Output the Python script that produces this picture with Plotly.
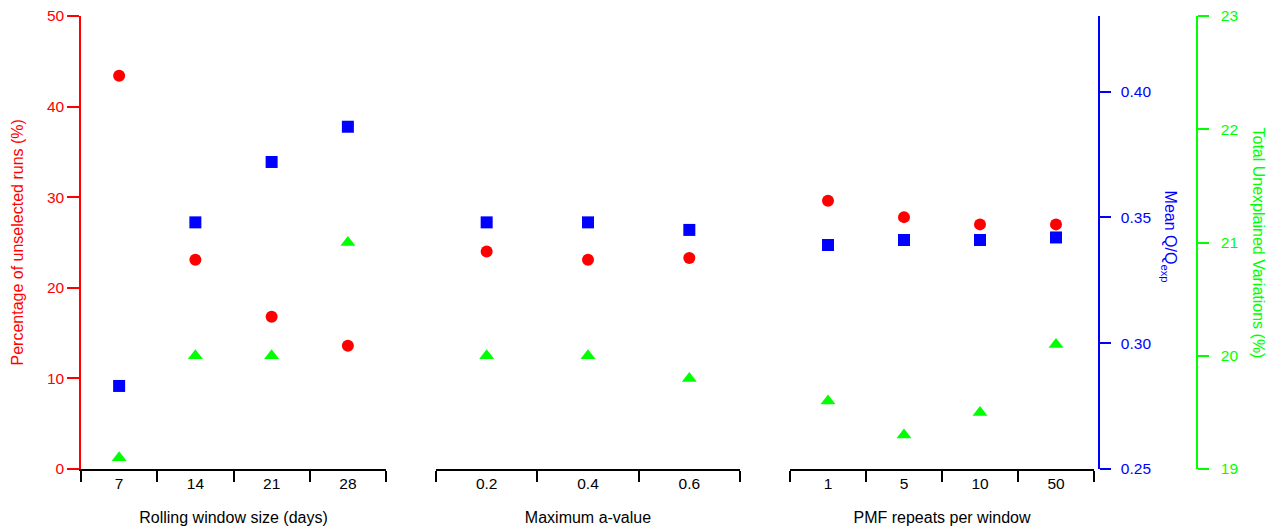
import plotly.graph_objects as go

# ---------------- data ----------------
window_sizes = ["7", "14", "21", "28"]
a_values = ["0.2", "0.4", "0.6"]
pmf_repeats = ["1", "5", "10", "50"]

unselected_window = [43.4, 23.1, 16.8, 13.6]
unselected_a = [24.0, 23.1, 23.3]
unselected_pmf = [29.6, 27.8, 27.0, 27.0]

qqexp_window = [0.283, 0.348, 0.372, 0.386]
qqexp_a = [0.348, 0.348, 0.345]
qqexp_pmf = [0.339, 0.341, 0.341, 0.342]

tuv_window = [19.1, 20.0, 20.0, 21.0]
tuv_a = [20.0, 20.0, 19.8]
tuv_pmf = [19.6, 19.3, 19.5, 20.1]

x_titles = ["Rolling window size (days)", "Maximum a-value", "PMF repeats per window"]

# ---------------- layout geometry (pixels) ----------------
W, H = 1275, 528
L, R, T, B = 81, 1197, 16, 469
PW = R - L


def px(x):
    return (x - L) / PW


RED, BLUE, GREEN = "#FF0000", "#0000FF", "#00FF00"
FONT = "Liberation Sans, Arial, sans-serif"
TICKF = 15.5
TITLEF = 16
LW = 1.5

groups = [
    (window_sizes, unselected_window, qqexp_window, tuv_window, [0, px(386)]),
    (a_values, unselected_a, qqexp_a, tuv_a, [px(436), px(740)]),
    (pmf_repeats, unselected_pmf, qqexp_pmf, tuv_pmf, [px(790), px(1094)]),
]

fig = go.Figure()
layout = {}
for i, (cats, red, blue, green, dom) in enumerate(groups):
    xa = "x" if i == 0 else f"x{i+1}"
    xkey = "xaxis" if i == 0 else f"xaxis{i+1}"
    fig.add_trace(go.Scatter(x=cats, y=red, xaxis=xa, yaxis="y", mode="markers",
                             marker=dict(symbol="circle", size=12, color=RED),
                             showlegend=False))
    fig.add_trace(go.Scatter(x=cats, y=blue, xaxis=xa, yaxis="y2", mode="markers",
                             marker=dict(symbol="square", size=12, color=BLUE),
                             showlegend=False))
    fig.add_trace(go.Scatter(x=cats, y=green, xaxis=xa, yaxis="y3", mode="markers",
                             marker=dict(symbol="triangle-up", size=13, color=GREEN),
                             showlegend=False))
    layout[xkey] = dict(
        domain=dom, anchor="y", type="category", categoryorder="array",
        categoryarray=cats, range=[-0.5, len(cats) - 0.5],
        tickson="boundaries", ticks="outside", ticklen=11, tickwidth=LW,
        tickcolor="black", showline=True, linecolor="black", linewidth=LW,
        showgrid=False, zeroline=False, automargin=False,
        tickfont=dict(family=FONT, size=TICKF, color="black"),
        title=dict(text=x_titles[i], font=dict(family=FONT, size=TITLEF, color="black"),
                   standoff=20),
    )

fig.update_layout(**layout)
fig.update_layout(
    width=W, height=H,
    margin=dict(l=L, r=W - R, t=T, b=H - B, pad=0, autoexpand=False),
    plot_bgcolor="white", paper_bgcolor="white",
    showlegend=False,
    yaxis=dict(range=[0, 50], tickvals=[0, 10, 20, 30, 40, 50], anchor="x",
               side="left", ticks="outside", ticklen=12, tickcolor=RED, tickwidth=LW,
               showline=True, linecolor=RED, linewidth=LW, showgrid=False,
               zeroline=False, automargin=False,
               tickfont=dict(family=FONT, size=TICKF, color=RED)),
    yaxis2=dict(range=[0.25, 0.43], tickvals=[0.25, 0.30, 0.35, 0.40],
                ticktext=["0.25", "0.30", "0.35", "0.40"],
                overlaying="y", side="right", anchor="free", position=px(1099),
                ticks="outside", ticklen=11, tickcolor=BLUE, tickwidth=LW, showline=True,
                linecolor=BLUE, linewidth=LW, showgrid=False, zeroline=False,
                ticklabelstandoff=7, automargin=False,
                tickfont=dict(family=FONT, size=TICKF, color=BLUE)),
    yaxis3=dict(range=[19, 23], tickvals=[19, 20, 21, 22, 23],
                overlaying="y", side="right", anchor="free", position=1.0,
                ticks="outside", ticklen=11, tickcolor=GREEN, tickwidth=LW, showline=True,
                linecolor=GREEN, linewidth=LW, showgrid=False, zeroline=False,
                ticklabelstandoff=9, automargin=False,
                tickfont=dict(family=FONT, size=TICKF, color=GREEN)),
    annotations=[
        dict(text="Percentage of unselected runs (%)", xref="paper", yref="paper",
             x=px(17), y=0.5, textangle=-90, showarrow=False,
             xanchor="center", yanchor="middle",
             font=dict(family=FONT, size=TITLEF, color=RED)),
        dict(text="Mean Q/Q<sub>exp</sub>", xref="paper", yref="paper",
             x=px(1169), y=0.513, textangle=90, showarrow=False,
             xanchor="center", yanchor="middle",
             font=dict(family=FONT, size=TITLEF, color=BLUE)),
        dict(text="Total Unexplained Variations (%)", xref="paper", yref="paper",
             x=px(1258), y=0.5, textangle=90, showarrow=False,
             xanchor="center", yanchor="middle",
             font=dict(family=FONT, size=TITLEF, color=GREEN)),
    ],
)

fig.write_html(
    "out.html",
    config={"displayModeBar": False},
    post_script="document.body.style.margin='0';document.body.style.overflow='hidden';",
)
